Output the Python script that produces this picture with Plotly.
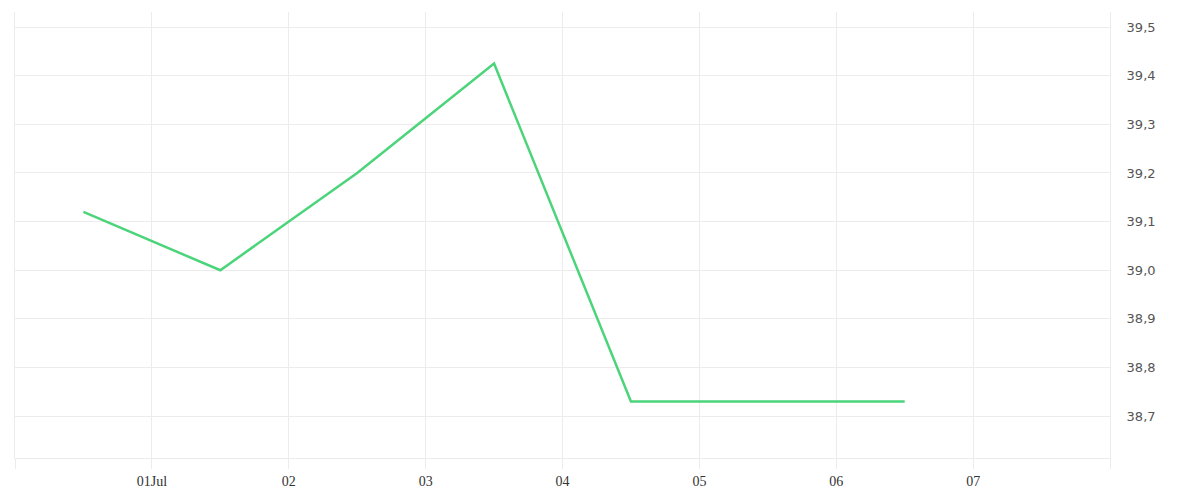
import plotly.graph_objects as go

dates = ["2024-06-30 12:00", "2024-07-01 12:00", "2024-07-02 12:00", "2024-07-03 12:00",
         "2024-07-04 12:00", "2024-07-05 12:00", "2024-07-06 12:00"]
values = [39.12, 39.0, 39.2, 39.425, 38.73, 38.73, 38.73]

tick_dates = ["2024-06-30", "2024-07-01", "2024-07-02", "2024-07-03", "2024-07-04",
              "2024-07-05", "2024-07-06", "2024-07-07", "2024-07-08"]
tick_labels = ["", "01Jul", "02", "03", "04", "05", "06", "07", ""]
y_ticks = [38.7, 38.8, 38.9, 39.0, 39.1, 39.2, 39.3, 39.4, 39.5]

fig = go.Figure()
fig.add_trace(go.Scatter(x=dates, y=values, mode="lines",
                         line=dict(color="#4cd47b", width=2.5), hoverinfo="x+y"))

fig.update_layout(
    width=1184, height=484,
    margin=dict(l=7, r=82, t=4, b=34),
    paper_bgcolor="white", plot_bgcolor="white",
    separators=",.",
    showlegend=False,
    xaxis=dict(
        type="date",
        range=["2024-06-30", "2024-07-08"],
        tickmode="array", tickvals=tick_dates, ticktext=tick_labels,
        showgrid=True, gridcolor="#ececec", gridwidth=1,
        ticks="outside", ticklen=10, tickcolor="#ececec",
        showline=True, linecolor="#ececec", linewidth=1,
        zeroline=False,
        tickfont=dict(family="Liberation Serif", size=14, color="#333"),
    ),
    yaxis=dict(
        side="right",
        range=[38.614, 39.531],
        tickmode="array", tickvals=y_ticks,
        tickformat=".1f",
        showgrid=True, gridcolor="#ececec", gridwidth=1,
        ticks="", ticklabelstandoff=13,
        showline=True, linecolor="#ececec", linewidth=1, mirror=True,
        zeroline=False,
        tickfont=dict(family="DejaVu Sans", size=13, color="#555"),
    ),
)

fig.write_html("out.html")
